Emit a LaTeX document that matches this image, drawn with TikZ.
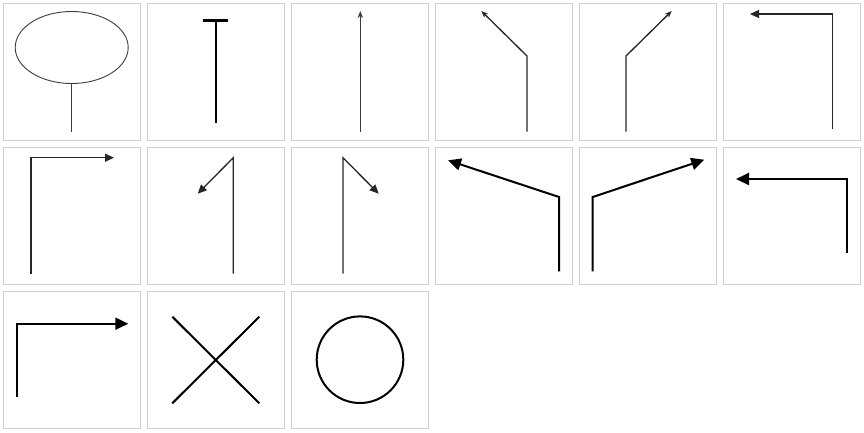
\documentclass[tikz,border=0pt]{standalone}
\usepackage{xcolor}
\usepackage{tikz}
\usetikzlibrary{arrows.meta,shapes.geometric}
\definecolor{FrameGray}{HTML}{CDD0D4}
\definecolor{InkDark}{HTML}{3C3C3C}
\tikzset{
  tile/.style={draw=FrameGray,line width=1.6pt,fill=white},
  thinline/.style={draw=InkDark,line width=0.9pt},
  midline/.style={draw=black!85,line width=1.3pt},
  boldline/.style={draw=black,line width=2pt},
  headS/.style={-{Stealth[length=7pt,width=5.5pt]}},
  headM/.style={-{Triangle[length=9pt,width=8pt]}},
  headL/.style={-{Triangle[length=13pt,width=12pt]}},
}

\begin{document}
\begin{tikzpicture}[x=1pt,y=-1pt]
  \useasboundingbox (0,0) rectangle (864,432);
  % tile frames
  \foreach \row in {0,1}
    \foreach \col in {0,...,5}
      \draw[tile] ({3.5+144*\col},{3.5+144*\row}) rectangle ++(137,137);
  \foreach \col in {0,1,2}
    \draw[tile] ({3.5+144*\col},291.5) rectangle ++(137,137);
  % row 1
  \node[ellipse,thinline,minimum width=113pt,minimum height=72pt,inner sep=0pt] (bulb) at (71.7,47.5) {};
  \coordinate (bulbEnd) at (71.7,131.7);
  \draw[thinline] (bulb.south) -- (bulbEnd);
  \coordinate (teeL) at (203.3,20.7);
  \coordinate (teeR) at (227.7,20.7);
  \coordinate (teeTop) at (216,20.7);
  \coordinate (teeFoot) at (216,123.3);
  \draw[boldline,line width=2.6pt] (teeL) -- (teeR);
  \draw[boldline,line width=2.4pt] (teeFoot) -- (teeTop);
  \coordinate (upFoot) at (360.3,131.7);
  \coordinate (upTip) at (360.3,11);
  \draw[thinline,line width=1.3pt,headS] (upFoot) -- (upTip);
  \coordinate (slFoot) at (527,131.7);
  \coordinate (slBend) at (527,56);
  \coordinate (slTip) at (481.3,11);
  \draw[midline,headS] (slFoot) -- (slBend) -- (slTip);
  \coordinate (srFoot) at (626,131.7);
  \coordinate (srBend) at (626,56);
  \coordinate (srTip) at (671.7,11);
  \draw[midline,headS] (srFoot) -- (srBend) -- (srTip);
  \coordinate (rlFoot) at (832.7,129.3);
  \coordinate (rlBend) at (832.7,14);
  \coordinate (rlTip) at (750,14);
  \draw[midline,headM] (rlFoot) -- (rlBend) -- (rlTip);
  % row 2
  \coordinate (rrFoot) at (31,273.7);
  \coordinate (rrBend) at (31,157.7);
  \coordinate (rrTip) at (114,157.7);
  \draw[midline,headM] (rrFoot) -- (rrBend) -- (rrTip);
  \coordinate (dlFoot) at (233.3,273.7);
  \coordinate (dlBend) at (233.3,157.7);
  \coordinate (dlTip) at (197.7,193.7);
  \draw[midline,headM] (dlFoot) -- (dlBend) -- (dlTip);
  \coordinate (drFoot) at (343,273.7);
  \coordinate (drBend) at (343,157.7);
  \coordinate (drTip) at (378.7,193.7);
  \draw[midline,headM] (drFoot) -- (drBend) -- (drTip);
  \coordinate (wlFoot) at (559,271.3);
  \coordinate (wlBend) at (559,197);
  \coordinate (wlTip) at (448,160.3);
  \draw[boldline,headL] (wlFoot) -- (wlBend) -- (wlTip);
  \coordinate (wrFoot) at (592.7,271.3);
  \coordinate (wrBend) at (592.7,197);
  \coordinate (wrTip) at (704.3,159.7);
  \draw[boldline,headL] (wrFoot) -- (wrBend) -- (wrTip);
  \coordinate (blFoot) at (846.7,253);
  \coordinate (blBend) at (846.7,179);
  \coordinate (blTip) at (736,179);
  \draw[boldline,headL] (blFoot) -- (blBend) -- (blTip);
  % row 3
  \coordinate (brFoot) at (16.7,397);
  \coordinate (brBend) at (16.7,323.7);
  \coordinate (brTip) at (128.3,323.7);
  \draw[boldline,headL] (brFoot) -- (brBend) -- (brTip);
  \coordinate (crossA) at (172.3,316.7);
  \coordinate (crossB) at (259.3,403.3);
  \coordinate (crossC) at (172.3,403.3);
  \coordinate (crossD) at (259.3,316.7);
  \draw[boldline] (crossA) -- (crossB);
  \draw[boldline] (crossC) -- (crossD);
  \node[circle,boldline,minimum size=86.6pt,inner sep=0pt] (ring) at (360,359.7) {};
\end{tikzpicture}
\end{document}
